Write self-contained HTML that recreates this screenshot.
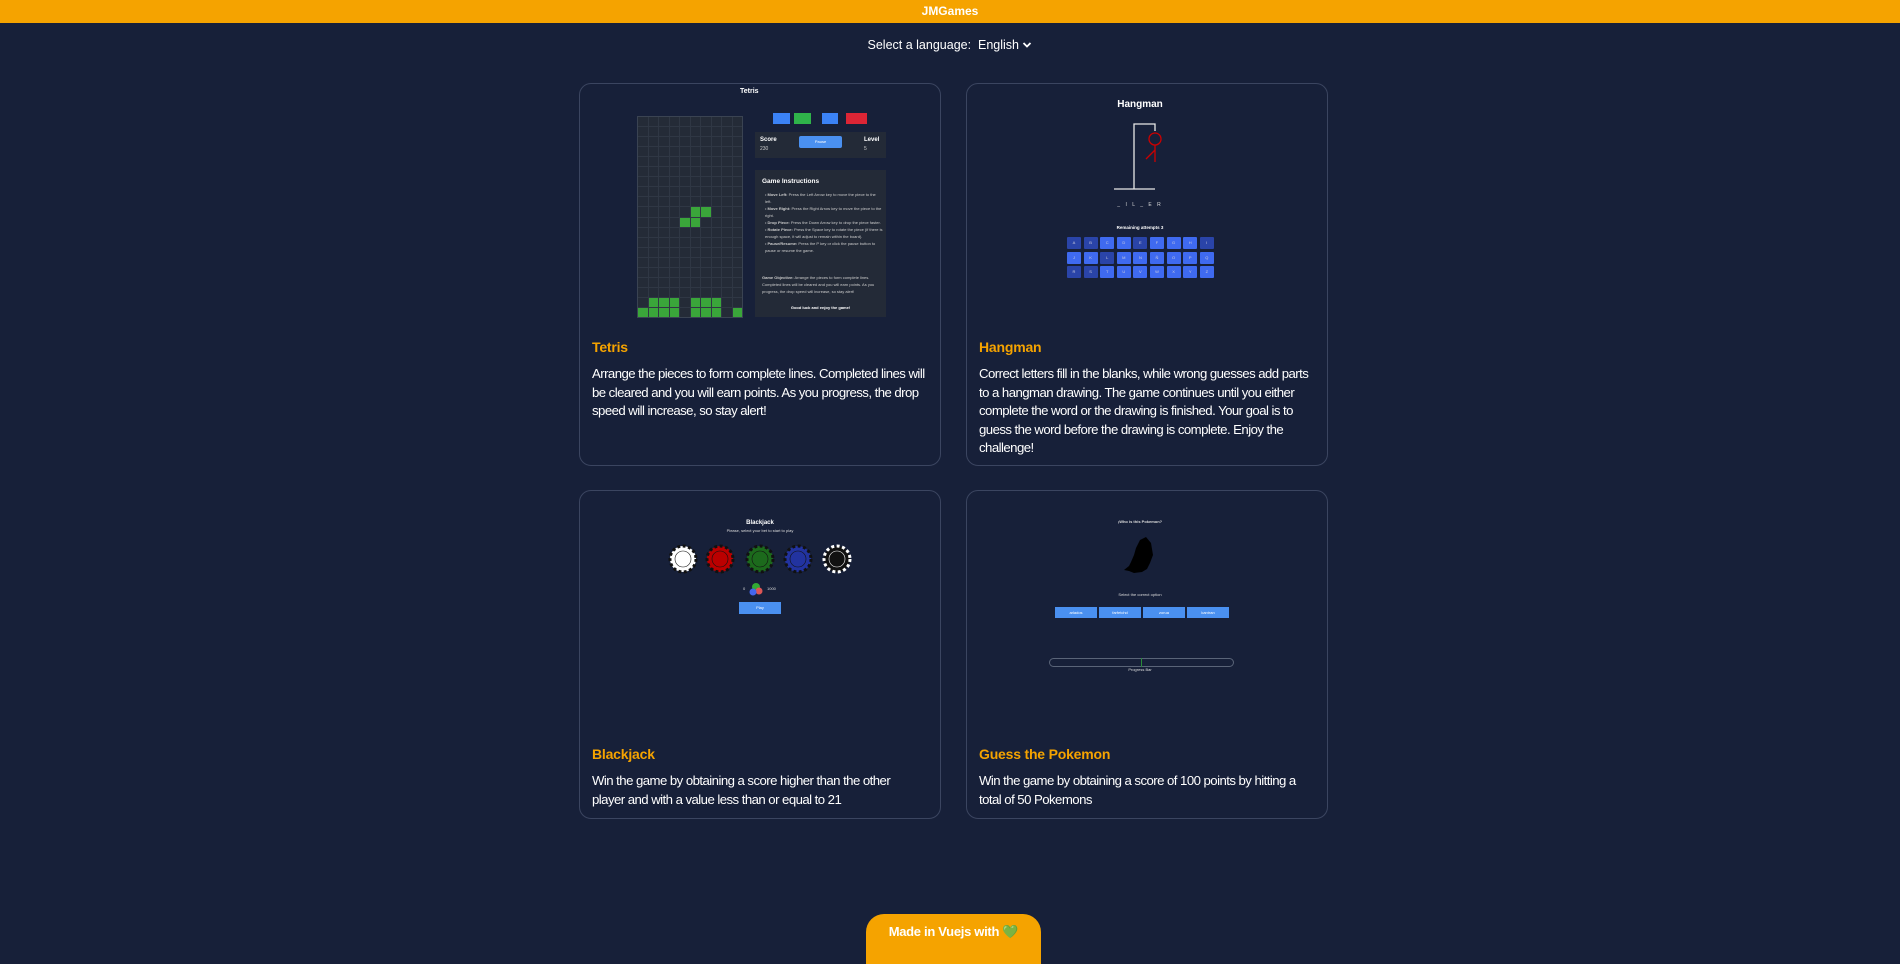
<!DOCTYPE html>
<html><head><meta charset="utf-8"><style>
*{margin:0;padding:0;box-sizing:border-box}
body{width:1900px;height:950px;background:#172039;font-family:"Liberation Sans",sans-serif;color:#fff;position:relative;overflow:hidden}
.a{position:absolute}
.hdr{left:0;top:0;width:1900px;height:23px;background:#f5a300;text-align:center;font-weight:bold;font-size:12px;line-height:23px;color:#fff}
.card{position:absolute;border:1px solid #3b4560;border-radius:12px;background:#172039}
.t{position:absolute;left:12px;color:#f5a300;font-weight:bold;font-size:14px;letter-spacing:-0.2px}
.d{position:absolute;left:12px;font-size:13.2px;line-height:18.5px;white-space:nowrap;letter-spacing:-0.55px;color:#fff}
.tiny{font-size:4px;color:#ddd;white-space:nowrap}
.key{position:absolute;width:14px;height:12px;border-radius:1px;font-size:4px;color:#ccd;text-align:center;line-height:12px}
</style></head><body>
<div class="a hdr">JMGames</div>
<div class="a" style="left:0;width:1900px;top:37px;text-align:center;font-size:12.5px;line-height:16px">Select a language:&nbsp;&nbsp;English&nbsp;<svg width="10" height="8" viewBox="0 0 10 8"><path d="M1.5 2 L5 5.5 L8.5 2" stroke="#fff" stroke-width="1.8" fill="none"/></svg></div>

<!-- Card 1 Tetris -->
<div class="card" style="left:579px;top:83px;width:362px;height:383px">
  <div class="t" style="top:255px">Tetris</div>
  <div class="d" style="top:281px">Arrange the pieces to form complete lines. Completed lines will<br>be cleared and you will earn points. As you progress, the drop<br>speed will increase, so stay alert!</div>
</div>
<div class="a" style="left:740px;top:88px;font-size:7px;font-weight:bold">Tetris</div>
<div class="a" id="board" style="left:637px;top:116px;width:106px;height:202px;display:grid;grid-template-columns:repeat(10,1fr);grid-template-rows:repeat(20,1fr);gap:1px;background:#2f3744;border:1px solid #3a4352"></div>
<div class="a" style="left:773px;top:113px;width:17px;height:11px;background:#3b82f6"></div>
<div class="a" style="left:794px;top:113px;width:17px;height:11px;background:#2fb34a"></div>
<div class="a" style="left:822px;top:113px;width:16px;height:11px;background:#3b82f6"></div>
<div class="a" style="left:846px;top:113px;width:21px;height:11px;background:#dc2535"></div>
<div class="a" style="left:755px;top:132px;width:131px;height:26px;background:#232a37"></div>
<div class="a" style="left:760px;top:137px;font-size:6px;font-weight:bold">Score</div>
<div class="a" style="left:760px;top:146px;font-size:5px;color:#ccc">230</div>
<div class="a" style="left:864px;top:137px;font-size:6px;font-weight:bold">Level</div>
<div class="a" style="left:864px;top:146px;font-size:5px;color:#ccc">5</div>
<div class="a" style="left:799px;top:136px;width:43px;height:12px;background:#4a90f0;border-radius:2px;font-size:4px;text-align:center;line-height:12px">Pause</div>
<div class="a" style="left:755px;top:170px;width:131px;height:147px;background:#232a37"></div>
<div class="a" style="left:762px;top:178px;font-size:6.5px;font-weight:bold">Game Instructions</div>
<div class="a" style="left:765px;top:191px;width:118px;font-size:4px;line-height:7px;color:#ccc">• <b>Move Left:</b> Press the Left Arrow key to move the piece to the left.<br>• <b>Move Right:</b> Press the Right Arrow key to move the piece to the right.<br>• <b>Drop Piece:</b> Press the Down Arrow key to drop the piece faster.<br>• <b>Rotate Piece:</b> Press the Space key to rotate the piece (if there is enough space, it will adjust to remain within the board).<br>• <b>Pause/Resume:</b> Press the P key or click the pause button to pause or resume the game.</div>
<div class="a" style="left:762px;top:274px;width:120px;font-size:4px;line-height:7px;color:#ccc"><b>Game Objective:</b> Arrange the pieces to form complete lines. Completed lines will be cleared and you will earn points. As you progress, the drop speed will increase, so stay alert!</div>
<div class="a" style="left:755px;top:305px;width:131px;text-align:center;font-size:4px;font-weight:bold">Good luck and enjoy the game!</div>

<!-- Card 2 Hangman -->
<div class="card" style="left:966px;top:83px;width:362px;height:383px">
  <div class="t" style="top:255px">Hangman</div>
  <div class="d" style="top:281px">Correct letters fill in the blanks, while wrong guesses add parts<br>to a hangman drawing. The game continues until you either<br>complete the word or the drawing is finished. Your goal is to<br>guess the word before the drawing is complete. Enjoy the<br>challenge!</div>
</div>
<div class="a" style="left:1090px;width:100px;top:99px;text-align:center;font-size:10px;font-weight:bold">Hangman</div>
<svg class="a" style="left:1100px;top:118px" width="80" height="80">
  <path d="M14 71 H55 M34 71 V6 H55 V13" stroke="#e8e8e8" stroke-width="1.3" fill="none"/>
  <circle cx="55" cy="21" r="6" stroke="#c00" stroke-width="1.3" fill="none"/>
  <path d="M55 27 V44 M55 32 L46 41" stroke="#c00" stroke-width="1.3" fill="none"/>
</svg>
<div class="a" style="left:1090px;width:100px;top:202px;text-align:center;font-size:5px;letter-spacing:2px;color:#ddd">_ I L _ E R</div>
<div class="a" style="left:1090px;width:100px;top:225px;text-align:center;font-size:4.5px;font-weight:bold">Remaining attempts 3</div>
<div id="keys"></div>

<!-- Card 3 Blackjack -->
<div class="card" style="left:579px;top:490px;width:362px;height:329px">
  <div class="t" style="top:255px">Blackjack</div>
  <div class="d" style="top:281px">Win the game by obtaining a score higher than the other<br>player and with a value less than or equal to 21</div>
</div>
<div class="a" style="left:710px;width:100px;top:520px;text-align:center;font-size:6px;font-weight:bold">Blackjack</div>
<div class="a tiny" style="left:710px;width:100px;top:528px;text-align:center">Please, select your bet to start to play</div>
<svg class="a" style="left:660px;top:540px" width="200" height="40">
  <g stroke-width="3" stroke-dasharray="3 2.5">
  <circle cx="23" cy="19" r="13" fill="#fff" stroke="#111"/><circle cx="23" cy="19" r="8" fill="#fff" stroke="#111" stroke-width="0.6" stroke-dasharray="none"/>
  <circle cx="60" cy="19" r="13" fill="#b00" stroke="#111"/><circle cx="60" cy="19" r="8" fill="#b00" stroke="#111" stroke-width="0.6" stroke-dasharray="none"/>
  <circle cx="100" cy="19" r="13" fill="#1c6a1c" stroke="#111"/><circle cx="100" cy="19" r="8" fill="#1c6a1c" stroke="#111" stroke-width="0.6" stroke-dasharray="none"/>
  <circle cx="138" cy="19" r="13" fill="#2233a0" stroke="#111"/><circle cx="138" cy="19" r="8" fill="#2233a0" stroke="#111" stroke-width="0.6" stroke-dasharray="none"/>
  <circle cx="177" cy="19" r="13" fill="#111" stroke="#fff"/><circle cx="177" cy="19" r="8" fill="#111" stroke="#fff" stroke-width="0.6" stroke-dasharray="none"/>
  </g>
</svg>
<svg class="a" style="left:740px;top:581px" width="30" height="16">
  <circle cx="16" cy="6" r="4" fill="#3a3"/><circle cx="19" cy="10" r="3.5" fill="#d55"/><circle cx="13" cy="11" r="3.5" fill="#46e"/>
</svg>
<div class="a tiny" style="left:743px;top:586px">0</div>
<div class="a tiny" style="left:767px;top:586px">1000</div>
<div class="a" style="left:739px;top:602px;width:42px;height:12px;background:#4a90f0;font-size:4px;text-align:center;line-height:12px">Play</div>

<!-- Card 4 Pokemon -->
<div class="card" style="left:966px;top:490px;width:362px;height:329px">
  <div class="t" style="top:255px">Guess the Pokemon</div>
  <div class="d" style="top:281px">Win the game by obtaining a score of 100 points by hitting a<br>total of 50 Pokemons</div>
</div>
<div class="a tiny" style="left:1090px;width:100px;top:519px;text-align:center;font-weight:bold">¡Who is this Pokemon?</div>
<svg class="a" style="left:1120px;top:535px" width="45" height="50">
  <path d="M20 5 L26 2 L31 8 L33 20 L30 28 L27 34 L22 37 L14 38 L9 36 L4 35 L9 31 L11 27 L14 20 L16 13 Z" fill="#000"/>
</svg>
<div class="a tiny" style="left:1090px;width:100px;top:592px;text-align:center">Select the correct option</div>
<div class="a" style="left:1055px;top:607px;width:42px;height:11px;background:#4a90f0;font-size:4px;text-align:center;line-height:11px">arlados</div>
<div class="a" style="left:1099px;top:607px;width:42px;height:11px;background:#4a90f0;font-size:4px;text-align:center;line-height:11px">farfetchd</div>
<div class="a" style="left:1143px;top:607px;width:42px;height:11px;background:#4a90f0;font-size:4px;text-align:center;line-height:11px">zorua</div>
<div class="a" style="left:1187px;top:607px;width:42px;height:11px;background:#4a90f0;font-size:4px;text-align:center;line-height:11px">kantran</div>
<div class="a" style="left:1049px;top:658px;width:185px;height:9px;border:1px solid #5a6478;border-radius:5px"></div>
<div class="a" style="left:1141px;top:658px;width:1px;height:9px;background:#2a8a3a"></div>
<div class="a tiny" style="left:1090px;width:100px;top:667px;text-align:center">Progress Bar</div>

<div class="a" style="left:866px;top:914px;width:175px;height:50px;background:#f5a300;border-radius:18px 18px 0 0;text-align:center;font-weight:bold;font-size:13px;line-height:36px;letter-spacing:-0.3px">Made in Vuejs with <span style="color:#3fbf7f">&#x1F49A;</span></div>

<script>
var b=document.getElementById('board');
var g={"9":[5,6],"10":[4,5],"18":[1,2,3,5,6,7],"19":[0,1,2,3,5,6,7,9]};
for(var r=0;r<20;r++)for(var c=0;c<10;c++){var d=document.createElement('div');d.style.background=(g[r]&&g[r].indexOf(c)>=0)?'#3aa63a':'#242b37';b.appendChild(d);}
var L=["A","B","C","D","E","F","G","H","I","J","K","L","M","N","Ñ","O","P","Q","R","S","T","U","V","W","X","Y","Z"],dim=["A","B","E","I","L","R","S"],k=document.getElementById('keys'),h='';
for(var i=0;i<27;i++){var r2=Math.floor(i/9),c2=i%9;var bright=dim.indexOf(L[i])<0;
h+='<div class="key" style="left:'+(1067+c2*16.6)+'px;top:'+(237+r2*14.6)+'px;background:'+(bright?'#3f6af0':'#2a44a8')+'">'+L[i]+'</div>';}
k.innerHTML=h;
</script>
</body></html>
